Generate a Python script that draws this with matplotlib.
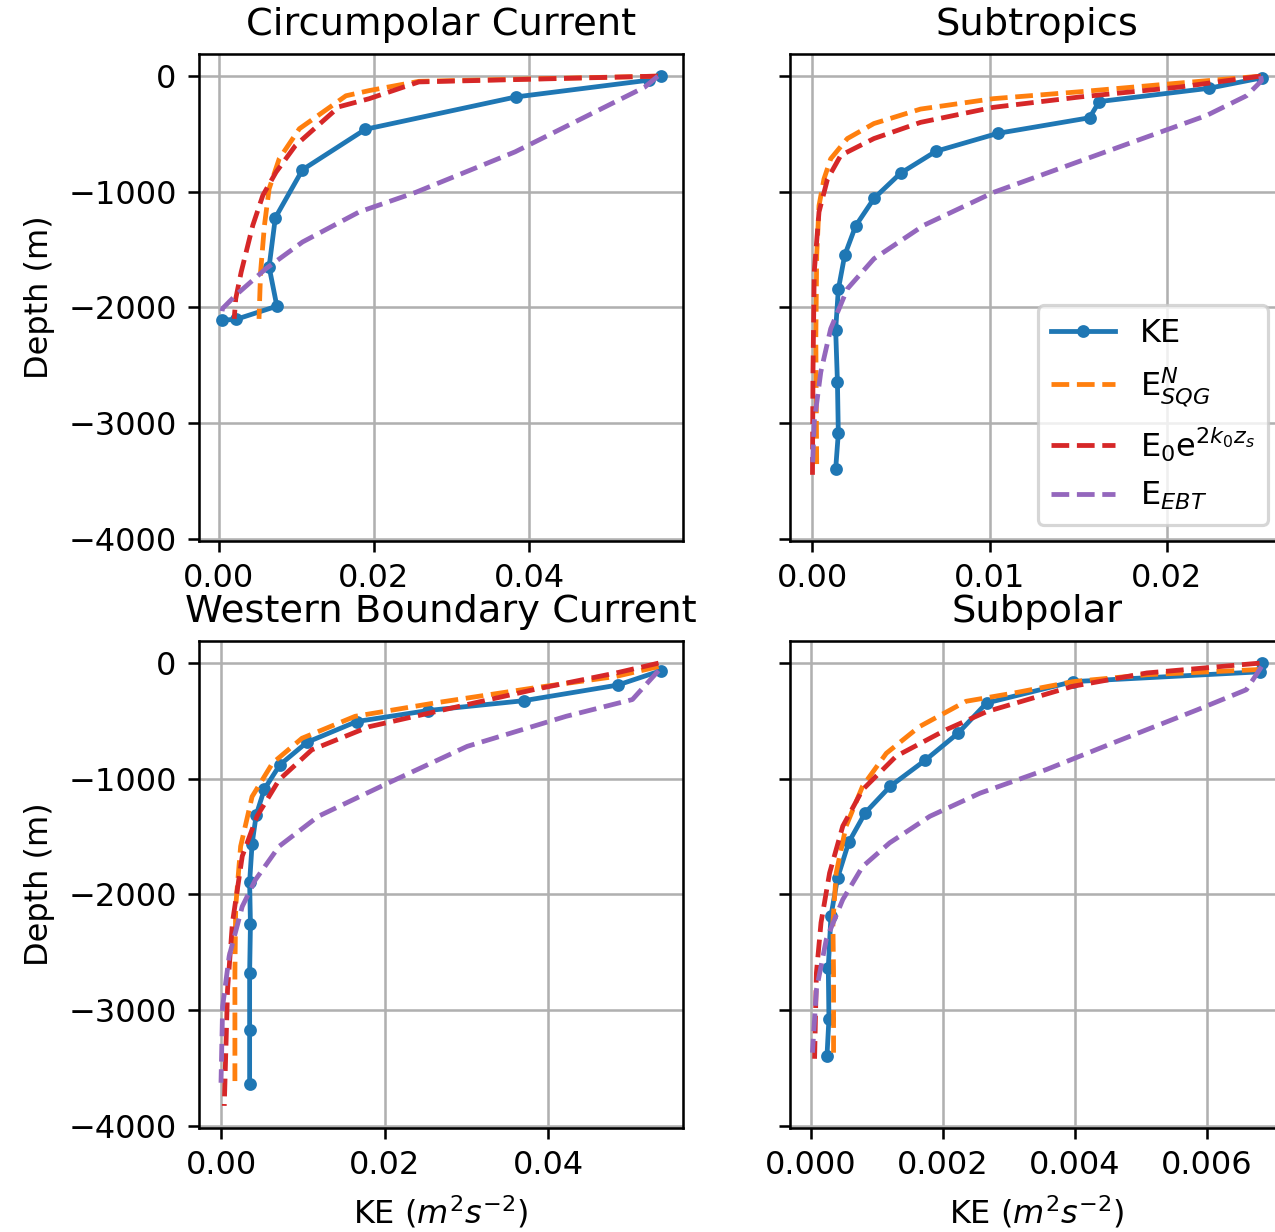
import numpy as np
import matplotlib
matplotlib.use('Agg')
from matplotlib import pyplot as plt

# Circumpolar Current
cc_ke_z = [0, -35, -180, -460, -810, -1225, -1650, -1990, -2105, -2110]
cc_ke = [0.0570, 0.0554, 0.0383, 0.0189, 0.0108, 0.0073, 0.0065, 0.0075, 0.0022, 0.0004]
cc_sqg_z = [0, -45, -125, -170, -455, -715, -975, -1290, -1695, -2100]
cc_sqg = [0.0566, 0.0258, 0.0194, 0.0164, 0.0104, 0.0078, 0.0065, 0.0059, 0.0054, 0.0052]
cc_exp_z = [0, -50, -195, -265, -600, -830, -1030, -1290, -1695, -1925, -2100]
cc_exp = [0.0566, 0.0258, 0.0194, 0.0155, 0.0099, 0.0074, 0.0057, 0.0044, 0.0029, 0.0022, 0.0020]
cc_ebt_z = [0, -95, -655, -1005, -1175, -1435, -1665, -1895, -2010, -2090]
cc_ebt = [0.0566, 0.0549, 0.0382, 0.0254, 0.0181, 0.0108, 0.0061, 0.0022, 0.0005, 0.0003]

# Subtropics
st_ke_z = [-15, -105, -220, -360, -495, -650, -840, -1055, -1295, -1550, -1845, -2195, -2645, -3090, -3400]
st_ke = [0.02535, 0.02238, 0.01619, 0.01564, 0.01046, 0.00697, 0.00497, 0.00349, 0.00244,
         0.00182, 0.00146, 0.00131, 0.00141, 0.00146, 0.00131]
st_sqg_z = [0, -60, -135, -195, -285, -410, -540, -715, -890, -1120, -1550, -2270, -3375]
st_sqg = [0.0253, 0.0207, 0.0151, 0.0102, 0.0061, 0.00347, 0.00197, 0.00103, 0.00065,
          0.00037, 0.00024, 0.00019, 0.00024]
st_exp_z = [0, -95, -180, -270, -400, -540, -685, -890, -1175, -1695, -2560, -3495]
st_exp = [0.0253, 0.0207, 0.0151, 0.0102, 0.0061, 0.00347, 0.0016, 0.00085, 0.00037, 0.0001, 0.00003, 0.0]
st_ebt_z = [0, -40, -170, -340, -630, -1005, -1290, -1580, -1840, -2185, -2560, -2990, -3395]
st_ebt = [0.0253, 0.02535, 0.0245, 0.02225, 0.0170, 0.01023, 0.00629, 0.00347, 0.00197,
          0.00103, 0.00047, 0.0001, 0.0]

# Western Boundary Current
wb_ke_z = [-65, -190, -325, -410, -505, -685, -880, -1090, -1315, -1565, -1895, -2260, -2680, -3170, -3645]
wb_ke = [0.0538, 0.0485, 0.0370, 0.0253, 0.0166, 0.0105, 0.0072, 0.0053, 0.0043, 0.0038,
         0.0035, 0.0036, 0.0035, 0.0035, 0.0035]
wb_sqg_z = [-30, -115, -215, -345, -460, -650, -865, -1155, -1585, -2105, -2680, -3630]
wb_sqg = [0.0535, 0.0483, 0.0382, 0.0261, 0.0164, 0.0099, 0.0063, 0.0038, 0.0024, 0.0018, 0.0017, 0.0017]
wb_exp_z = [0, -85, -230, -390, -550, -750, -1010, -1325, -1670, -2245, -2825, -3830]
wb_exp = [0.0535, 0.0483, 0.0382, 0.0281, 0.0181, 0.0111, 0.0071, 0.0044, 0.0026, 0.0014, 0.0008, 0.0004]
wb_ebt_z = [-65, -315, -460, -720, -1065, -1325, -1585, -1875, -2105, -2535, -2970, -3630]
wb_ebt = [0.0535, 0.0503, 0.0422, 0.0301, 0.0196, 0.0119, 0.0071, 0.0042, 0.0026, 0.0010, 0.0002, 0.0]

# Subpolar
sp_ke_z = [0, -75, -160, -345, -605, -840, -1065, -1295, -1550, -1860, -2190, -2635, -3075, -3400]
sp_ke = [0.00683, 0.00681, 0.00397, 0.00266, 0.00223, 0.00173, 0.00120, 0.00082, 0.00057,
         0.00040, 0.00030, 0.00026, 0.00027, 0.00024]
sp_sqg_z = [-55, -100, -160, -260, -330, -550, -780, -1065, -1410, -1815, -2245, -2680, -3370]
sp_sqg = [0.0068, 0.00509, 0.00397, 0.00306, 0.00235, 0.00164, 0.00114, 0.00078, 0.00053,
          0.00038, 0.00033, 0.00034, 0.00034]
sp_exp_z = [0, -85, -200, -420, -575, -805, -1095, -1410, -1815, -2245, -2680, -3485]
sp_exp = [0.0068, 0.00509, 0.00397, 0.00266, 0.00205, 0.00129, 0.00078, 0.00048, 0.00028,
          0.00015, 0.00008, 0.00005]
sp_ebt_z = [-30, -230, -405, -690, -920, -1125, -1325, -1555, -1760, -2045, -2390, -2825, -3370]
sp_ebt = [0.00683, 0.0066, 0.00585, 0.00458, 0.00357, 0.00256, 0.0018, 0.00119, 0.00078,
          0.00048, 0.00023, 0.00008, 0.00002]

titles = ['Circumpolar Current', 'Subtropics', 'Western Boundary Current', 'Subpolar']
labels = ['KE', r'E$^N_{SQG}$', r'E$_0$e$^{2k_0z_s}$', r'E$_{EBT}$']

regions = [
    (cc_ke_z, cc_ke, cc_sqg_z, cc_sqg, cc_exp_z, cc_exp, cc_ebt_z, cc_ebt),
    (st_ke_z, st_ke, st_sqg_z, st_sqg, st_exp_z, st_exp, st_ebt_z, st_ebt),
    (wb_ke_z, wb_ke, wb_sqg_z, wb_sqg, wb_exp_z, wb_exp, wb_ebt_z, wb_ebt),
    (sp_ke_z, sp_ke, sp_sqg_z, sp_sqg, sp_exp_z, sp_exp, sp_ebt_z, sp_ebt),
]

W, H, dpi = 1275, 1232, 230
fig = plt.figure(figsize=(W / dpi, H / dpi), dpi=dpi)

# axes boxes in pixels: (left, top, width, height); right column runs off the edge
boxes = [(199, 54, 484, 487), (790, 54, 494, 487),
         (199, 641, 484, 487), (790, 641, 494, 487)]

axs = []
for i, (l, t, w, h) in enumerate(boxes):
    rect = [l / W, 1 - (t + h) / H, w / W, h / H]
    if i == 0:
        ax = fig.add_axes(rect)
    else:
        ax = fig.add_axes(rect, sharey=axs[0])
    axs.append(ax)

for i, ax in enumerate(axs):
    ke_z, ke, sqg_z, sqg, exp_z, exp_, ebt_z, ebt = regions[i]
    ax.plot(ke, ke_z, '.-', color='C0', lw=1.5, label=labels[0])
    ax.plot(sqg, sqg_z, '--', color='C1', lw=1.5, label=labels[1])
    ax.plot(exp_, exp_z, '--', color='C3', lw=1.5, label=labels[2])
    ax.plot(ebt, ebt_z, '--', color='C4', lw=1.5, label=labels[3])
    ax.grid(True)
    ax.set_title(titles[i], fontsize=12)
    if i % 2 == 0:
        ax.set_ylabel('Depth (m)')
    else:
        ax.tick_params(labelleft=False)
    if i >= 2:
        ax.set_xlabel(r'KE ($m^2s^{-2}$)')

axs[0].set_yticks([0, -1000, -2000, -3000, -4000])
axs[0].set_xticks([0.0, 0.02, 0.04])
axs[2].set_xticks([0.0, 0.02, 0.04])
axs[1].set_xticks([0.0, 0.01, 0.02])
axs[3].set_xticks([0.0, 0.002, 0.004, 0.006])
axs[1].legend(loc='lower right')

fig.savefig('out.png', dpi=dpi)
